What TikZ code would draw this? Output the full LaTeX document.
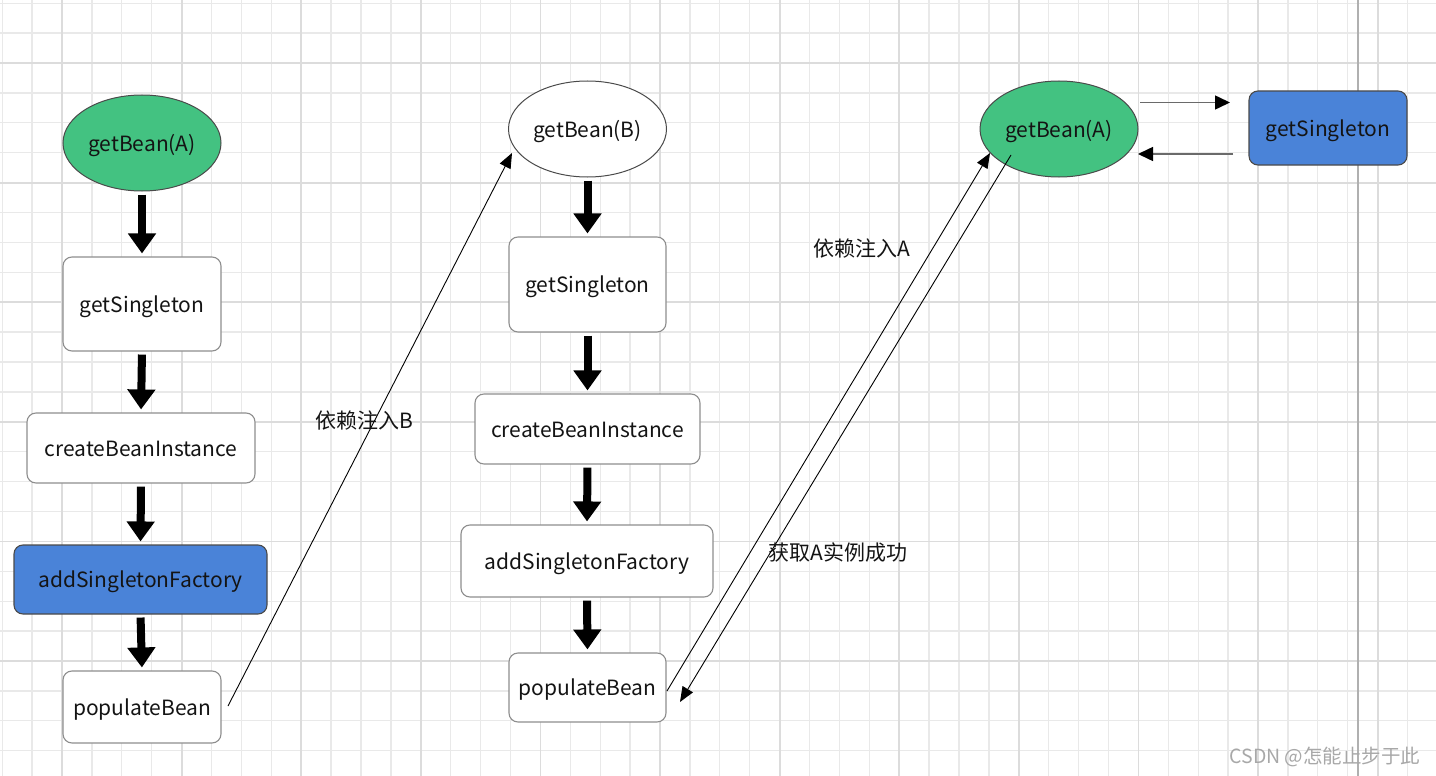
\documentclass[tikz,border=0pt]{standalone}
\usepackage{fontspec}
\setmainfont{Noto Sans CJK SC}
\usetikzlibrary{arrows.meta,shapes.geometric}
\definecolor{gridminor}{HTML}{E9E9E9}
\definecolor{gridmajor}{HTML}{DCDCDC}
\definecolor{pagebreak}{HTML}{B0B0B0}
\definecolor{txt}{HTML}{141414}
\definecolor{boxline}{HTML}{8E8E8E}
\definecolor{darkline}{HTML}{4A4A4A}
\definecolor{blue1}{HTML}{4A83D8}
\definecolor{green1}{HTML}{43C281}
\definecolor{wm}{HTML}{A8A8A8}
\definecolor{hline}{HTML}{6A6A6A}
\begin{document}
\begin{tikzpicture}[x=1pt,y=-1pt,
  lbl/.style={font=\fontsize{21}{25}\selectfont, text=txt, text height=20pt, text depth=4pt},
  wbox/.style={lbl, draw=boxline, line width=1.1pt, rounded corners=9pt, fill=white, inner sep=0pt},
  bbox/.style={wbox, fill=blue1, draw=darkline},
  gell/.style={lbl, ellipse, draw=darkline, fill=green1, line width=1pt, inner sep=0pt, minimum width=158pt, minimum height=96pt},
  well/.style={gell, fill=white},
  bigarrow/.style={line width=8pt, black, -{Triangle[width=27pt,length=20pt]}, shorten <=3pt, shorten >=3pt},
  thinarrow/.style={line width=0.9pt, black, -{Triangle[width=12pt,length=15pt]}},
  sidearrow/.style={line width=1.5pt, hline, -{Triangle[width=14pt,length=15pt,color=black]}},
  cnote/.style={font=\fontsize{21}{25}\selectfont, text=txt},
  minorgrid/.style={gridminor, line width=1.3pt},
  majorgrid/.style={gridmajor, line width=1.8pt}]
\useasboundingbox (0,0) rectangle (1436,776);
\fill[white] (0,0) rectangle (1436,776);
% grid
\foreach \i in {-2,...,45} {\draw[minorgrid] ({62+29.9*\i},0) -- ({62+29.9*\i},776);}
\foreach \j in {-2,...,23} {\draw[minorgrid] (0,{63+29.9*\j}) -- (1436,{63+29.9*\j});}
\foreach \i in {0,4,...,44} {\draw[majorgrid] ({62+29.9*\i},0) -- ({62+29.9*\i},776);}
\foreach \j in {0,4,...,20} {\draw[majorgrid] (0,{63+29.9*\j}) -- (1436,{63+29.9*\j});}
\draw[pagebreak, line width=1.6pt] (1358,0) -- (1358,776);

% column 1
\node[gell] (gbA) at (142,143) {getBean(A)};
\node[wbox, minimum width=158pt, minimum height=94pt] (gs1) at (142,304) {getSingleton};
\node[wbox, minimum width=228pt, minimum height=70pt] (cbi1) at (141,448) {createBeanInstance};
\node[bbox, minimum width=253pt, minimum height=69pt] (asf1) at (140.5,579.5) {addSingletonFactory};
\node[wbox, minimum width=158pt, minimum height=72pt] (pop1) at (142,707) {populateBean};

% column 2
\node[well] (gbB) at (587.5,129) {getBean(B)};
\node[wbox, minimum width=157pt, minimum height=95pt] (gs2) at (587.5,284.5) {getSingleton};
\node[wbox, minimum width=225pt, minimum height=70pt] (cbi2) at (587.5,429) {createBeanInstance};
\node[wbox, minimum width=252pt, minimum height=72pt] (asf2) at (587,561) {addSingletonFactory};
\node[wbox, minimum width=157pt, minimum height=69pt] (pop2) at (587.5,687.5) {populateBean};

% column 3
\node[gell] (gbA2) at (1059,129) {getBean(A)};
\node[bbox, minimum width=158pt, minimum height=74pt] (gs3) at (1328,128) {getSingleton};

% thick arrows
\draw[bigarrow] (gbA.south) -- (gs1.north);
\draw[bigarrow] (gs1.south) -- (cbi1.north);
\draw[bigarrow] (cbi1.south) -- (asf1.north);
\draw[bigarrow] (asf1.south) -- (pop1.north);
\draw[bigarrow] (gbB.south) -- (gs2.north);
\draw[bigarrow] (gs2.south) -- (cbi2.north);
\draw[bigarrow] (cbi2.south) -- (asf2.north);
\draw[bigarrow] (asf2.south) -- (pop2.north);

% thin connectors
\coordinate (a1s) at (228,706);
\coordinate (a1e) at (512,153);
\coordinate (a2s) at (667,691);
\coordinate (a2e) at (990,153);
\coordinate (a3s) at (1011,155);
\coordinate (a3e) at (680,702);
\draw[thinarrow] (a1s) -- (a1e);
\draw[thinarrow] (a2s) -- (a2e);
\draw[thinarrow] (a3s) -- (a3e);

\coordinate (h1s) at (1140,102.5);
\coordinate (h1e) at (1230,102.5);
\coordinate (h2s) at (1233,154);
\coordinate (h2e) at (1138,154);
\draw[sidearrow] (h1s) -- (h1e);
\draw[sidearrow] (h2s) -- (h2e);

% labels
\node[cnote] (lB) at (364,421) {依赖注入B};
\node[cnote] (lA) at (862,249) {依赖注入A};
\node[cnote] (lOK) at (838,553) {获取A实例成功};
\node[font=\fontsize{19.5}{23}\selectfont, text=wm] (wmk) at (1325,757) {CSDN @怎能止步于此};
\end{tikzpicture}
\end{document}
